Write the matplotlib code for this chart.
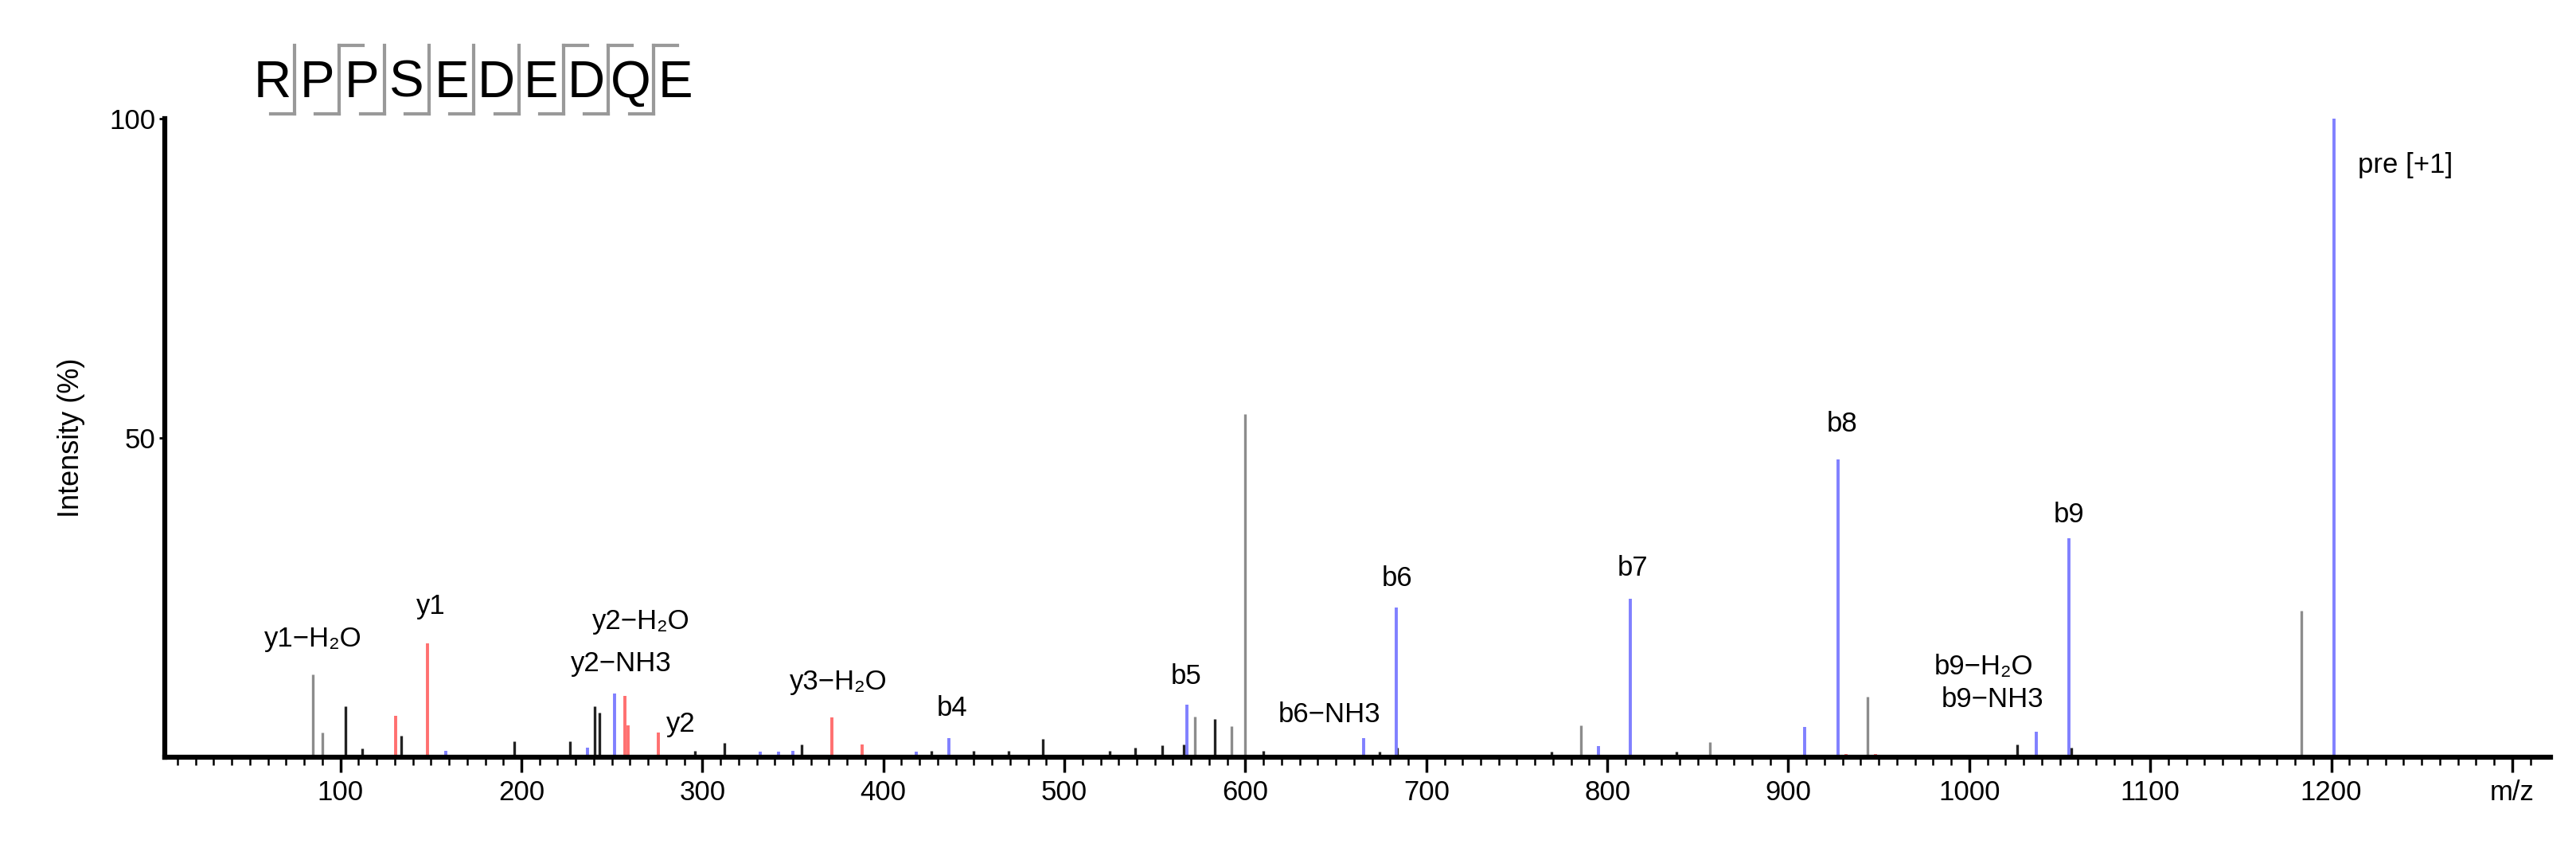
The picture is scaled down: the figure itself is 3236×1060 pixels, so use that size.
import matplotlib
matplotlib.use("Agg")
import matplotlib.pyplot as plt
from matplotlib.lines import Line2D

plt.rcParams['font.family'] = ['Liberation Sans', 'DejaVu Sans']

# peaks (m/z, relative intensity %)
gray_mz = [84.7, 90, 572, 592.5, 600, 785.4, 856.8, 943.6, 1183.7]
gray_int = [13.0, 3.8, 6.4, 4.9, 53.7, 5.0, 2.4, 9.5, 22.9]
black_mz = [103, 112, 133.6, 196, 226.7, 240.5, 243, 296, 312, 355, 426.5, 450, 469, 488,
            525, 539, 554, 566, 583, 610, 674, 684, 769, 838, 1026.6, 1056.5]
black_int = [8.0, 1.3, 3.4, 2.5, 2.5, 8.0, 7.0, 1.0, 2.2, 2.0, 1.0, 1.0, 1.0, 2.9,
             1.0, 1.5, 1.8, 2.0, 6.0, 1.0, 0.8, 1.5, 0.8, 0.8, 2.0, 1.5]
blue_mz = [158, 236.5, 251.3, 332, 342, 350, 418, 436, 567.7, 665.5, 683.5, 795, 812.6,
           909, 927.7, 1037, 1055, 1201.4]
blue_int = [1.0, 1.5, 9.9, 0.8, 0.8, 1.0, 0.8, 3.0, 8.2, 3.0, 23.4, 1.7, 24.8,
            4.7, 46.6, 4.0, 34.3, 100.0]
red_mz = [130.5, 148.2, 257.3, 258.8, 275.6, 371.4, 388.4, 932, 948]
red_int = [6.5, 17.8, 9.6, 5.0, 3.8, 6.2, 2.0, 0.5, 0.5]

labels = ["y1\u2212H\u2082O", "y1", "y2\u2212H\u2082O", "y2\u2212NH3", "y2", "y3\u2212H\u2082O",
          "b4", "b5", "b6\u2212NH3", "b6", "b7", "b8", "b9\u2212H\u2082O", "b9\u2212NH3", "b9",
          "pre [+1]"]
label_mz = [85, 150, 266, 255, 288, 375, 438, 567.5, 646.6, 684, 814, 929.6, 1008, 1013,
            1055, 1241]
label_int = [18.5, 23.6, 21.3, 14.7, 5.1, 11.8, 7.7, 12.6, 6.7, 28, 29.6, 52.2, 14.1, 9.0,
             38, 92.8]

sequence = list("RPPSEDEDQE")
y_cleaved = [False, True, False, False, False, False, True, True, True]

W, H = 3236, 1060
fig = plt.figure(figsize=(W / 100, H / 100), dpi=100)
ax = fig.add_axes([0.064, 0.103, 0.926, 0.756])

ax.vlines(gray_mz, 0, gray_int, color='#8c8c8c', lw=2.4)
ax.vlines(black_mz, 0, black_int, color='#222222', lw=2.4)
ax.vlines(blue_mz, 0, blue_int, color='#8080ff', lw=2.8)
ax.vlines(red_mz, 0, red_int, color='#ff7070', lw=2.8)

for t, x, y in zip(labels, label_mz, label_int):
    ax.text(x, y, t, ha='center', va='center', fontsize=25)

ax.set_xlim(3, 1321)
ax.set_ylim(0, 100)
ax.spines['top'].set_visible(False)
ax.spines['right'].set_visible(False)
ax.spines['left'].set_linewidth(4.5)
ax.spines['bottom'].set_linewidth(4.5)
ax.set_xticks(list(range(100, 1300, 100)) + [1300])
ax.set_xticklabels([str(v) for v in range(100, 1300, 100)] + ['m/z'])
ax.set_xticks(range(10, 1320, 10), minor=True)
ax.tick_params(axis='x', which='major', length=14, width=2.5, labelsize=25, pad=6)
ax.tick_params(axis='x', which='minor', length=7, width=1.8)
ax.set_yticks([50, 100])
ax.tick_params(axis='y', length=5, width=2, labelsize=25)
ax.set_ylabel('Intensity (%)', fontsize=26, labelpad=22)

# peptide sequence with fragment marks
x0, step, base = 342, 56.3, H - 122
for i, aa in enumerate(sequence):
    fig.text((x0 + i * step) / W, base / H, aa, fontsize=47, ha='center', va='baseline')
for i, yc in enumerate(y_cleaved):
    sx = x0 + (i + 0.5) * step
    top, bot = H - 57, H - 143
    fig.add_artist(Line2D([sx / W, sx / W], [top / H, bot / H], color='#999999', lw=3,
                          transform=fig.transFigure))
    fig.add_artist(Line2D([sx / W, (sx - 30) / W], [bot / H, bot / H], color='#999999',
                          lw=3, transform=fig.transFigure))
    if yc:
        fig.add_artist(Line2D([sx / W, (sx + 30) / W], [top / H, top / H], color='#999999',
                              lw=3, transform=fig.transFigure))

fig.savefig("out.png", dpi=100)
